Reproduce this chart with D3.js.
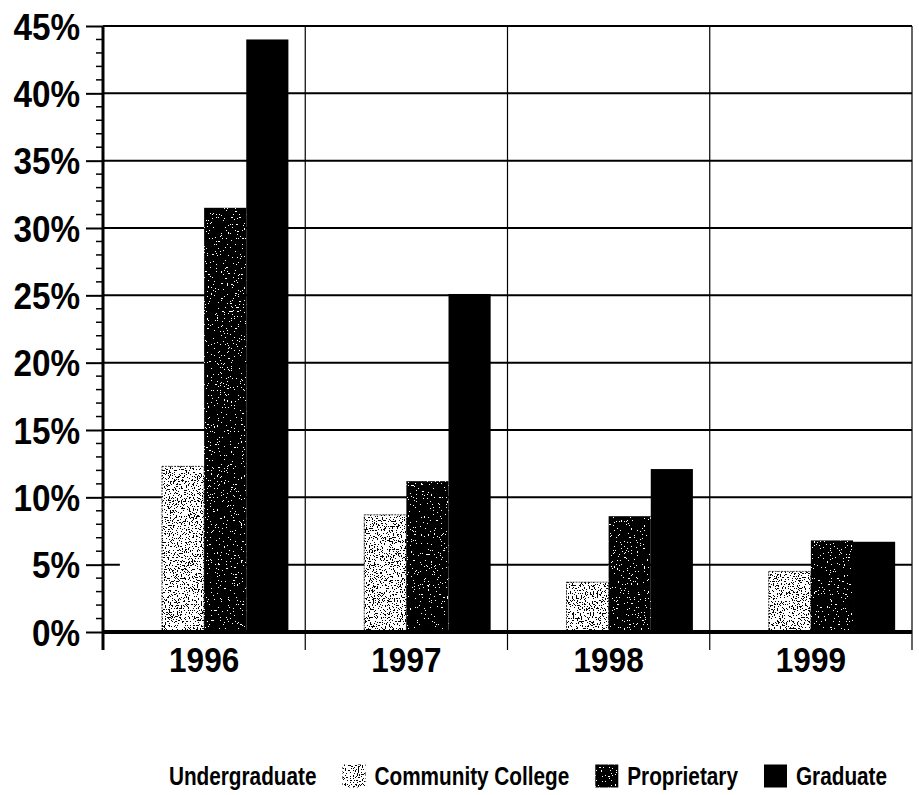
<!DOCTYPE html>
<html>
<head>
<meta charset="utf-8">
<script src="https://cdn.jsdelivr.net/npm/d3@7"></script>
<style>
  html, body { margin: 0; padding: 0; background: #fff; }
  svg { display: block; }
  text { font-family: "Liberation Sans", Arial, sans-serif; font-weight: bold; fill: #000; }
</style>
</head>
<body>
<svg id="chart" width="919" height="795"></svg>
<script>
// Enrollment share by year and sector (percent)
const years = ["1996", "1997", "1998", "1999"];
const series = ["Undergraduate", "Community College", "Proprietary", "Graduate"];
const undergraduate = [6.0, 3.0, 2.0, 3.3];
const communityCollege = [12.3, 8.7, 3.7, 4.5];
const proprietary = [31.5, 11.2, 8.6, 6.8];
const graduate = [44.0, 25.1, 12.1, 6.7];
const yTicks = [0, 5, 10, 15, 20, 25, 30, 35, 40, 45];

const valuesBySeries = [undergraduate, communityCollege, proprietary, graduate];

const svg = d3.select("#chart");
const plot = { left: 103, right: 912, top: 26, bottom: 632 };
const FONT = "\"Liberation Sans\", Arial, sans-serif";
const SQUEEZE = 0.9;          // horizontal compression for the condensed axis lettering
const LEGEND_SQUEEZE = 0.83;  // legend lettering is a little narrower still

const x = d3.scaleBand().domain(years).range([plot.left, plot.right]).paddingInner(0).paddingOuter(0);
const xs = d3.scaleBand().domain(series).range([0, x.bandwidth()]).paddingInner(0).paddingOuter(0.4);
const y = d3.scaleLinear().domain([0, 45]).range([plot.bottom, plot.top]);

// Stipple textures made from turbulence noise thresholded into dots
const defs = svg.append("defs");
function speckle(id, freq, seed, on, steps) {
  const table = d3.range(steps).map(i => (i >= steps - on ? 1 : 0)).join(" ");
  const f = defs.append("filter").attr("id", id)
    .attr("x", 0).attr("y", 0).attr("width", 1).attr("height", 1)
    .attr("color-interpolation-filters", "sRGB");
  f.append("feTurbulence").attr("type", "fractalNoise")
    .attr("baseFrequency", freq).attr("numOctaves", 2).attr("seed", seed).attr("result", "noise");
  f.append("feColorMatrix").attr("in", "noise").attr("type", "matrix")
    .attr("values", "0 0 0 0 0  0 0 0 0 0  0 0 0 0 0  1 0 0 0 0").attr("result", "a");
  f.append("feComponentTransfer").attr("in", "a").attr("result", "dots")
    .append("feFuncA").attr("type", "discrete").attr("tableValues", table);
  f.append("feComposite").attr("in", "SourceGraphic").attr("in2", "dots").attr("operator", "in");
}
speckle("speck-ug", 0.6, 11, 1, 24);
speckle("speck-cc", 0.75, 3, 8, 20);
speckle("speck-pr", 0.7, 5, 6, 20);

const styles = {
  "Undergraduate":     { base: "#fff", stroke: "none", overlay: "#000", filter: "speck-ug" },
  "Community College": { base: "#fff", stroke: "#444", overlay: "#000", filter: "speck-cc" },
  "Proprietary":       { base: "#000", stroke: "none", overlay: "#fff", filter: "speck-pr" },
  "Graduate":          { base: "#000", stroke: "none", overlay: null, filter: null }
};

// Horizontal gridlines
svg.append("g").selectAll("line").data(yTicks.filter(d => d > 0)).join("line")
  .attr("x1", plot.left).attr("x2", plot.right)
  .attr("y1", d => y(d)).attr("y2", d => y(d))
  .attr("stroke", "#000").attr("stroke-width", 2);

// Vertical category separators
const seps = years.slice(1).map(d => x(d)).concat([plot.right]);
svg.append("g").selectAll("line").data(seps).join("line")
  .attr("x1", d => d).attr("x2", d => d)
  .attr("y1", plot.top).attr("y2", plot.bottom + 18)
  .attr("stroke", "#000").attr("stroke-width", 1.2);

// Bars
const barData = [];
years.forEach((yr, i) => series.forEach((s, j) => barData.push({ year: yr, series: s, value: valuesBySeries[j][i] })));

const bars = svg.append("g");
bars.selectAll("rect.base").data(barData).join("rect")
  .attr("class", "base")
  .attr("x", d => x(d.year) + xs(d.series))
  .attr("width", xs.bandwidth())
  .attr("y", d => y(d.value))
  .attr("height", d => y(0) - y(d.value))
  .attr("fill", d => styles[d.series].base)
  .attr("stroke", d => styles[d.series].stroke)
  .attr("stroke-width", 1)
  .attr("stroke-dasharray", "2 1");

bars.selectAll("rect.tex").data(barData.filter(d => styles[d.series].overlay)).join("rect")
  .attr("class", "tex")
  .attr("x", d => x(d.year) + xs(d.series))
  .attr("width", xs.bandwidth())
  .attr("y", d => y(d.value))
  .attr("height", d => y(0) - y(d.value))
  .attr("fill", d => styles[d.series].overlay)
  .attr("filter", d => `url(#${styles[d.series].filter})`);

// Top border
svg.append("line").attr("x1", plot.left).attr("x2", plot.right)
  .attr("y1", plot.top).attr("y2", plot.top).attr("stroke", "#000").attr("stroke-width", 2);

// Y axis with major and minor ticks
const yAxis = svg.append("g").attr("transform", `translate(${plot.left},0)`);
yAxis.call(d3.axisLeft(y).tickValues(yTicks).tickSize(17).tickFormat(d => d + "%").tickPadding(6));
yAxis.select(".domain").remove();
yAxis.selectAll(".tick line").attr("stroke", "#000").attr("stroke-width", 2);
yAxis.selectAll(".tick text")
  .attr("font-size", 37).attr("dy", "0.36em")
  .attr("x", -23 / SQUEEZE)
  .attr("transform", `scale(${SQUEEZE},1)`)
  .style("font-family", FONT).style("font-weight", "bold");
const minor = d3.range(0, 45.01, 1).filter(d => d % 5 !== 0);
yAxis.append("g").selectAll("line").data(minor).join("line")
  .attr("x1", -7).attr("x2", 0).attr("y1", d => y(d)).attr("y2", d => y(d))
  .attr("stroke", "#000").attr("stroke-width", 1.5);
svg.append("line").attr("x1", plot.left).attr("x2", plot.left)
  .attr("y1", plot.top).attr("y2", plot.bottom + 18).attr("stroke", "#000").attr("stroke-width", 3);

// X axis baseline and labels
svg.append("line").attr("x1", plot.left).attr("x2", plot.right)
  .attr("y1", plot.bottom).attr("y2", plot.bottom).attr("stroke", "#000").attr("stroke-width", 4);
const xAxis = svg.append("g").attr("transform", `translate(0,${plot.bottom})`);
xAxis.call(d3.axisBottom(x).tickSize(0).tickPadding(15));
xAxis.select(".domain").remove();
xAxis.selectAll(".tick text")
  .attr("font-size", 35).attr("dy", "0.71em")
  .attr("transform", `scale(${SQUEEZE},1)`)
  .style("font-family", FONT).style("font-weight", "bold");

// Legend, centred under the plot
const legend = svg.append("g");
const sw = 23, gapText = 9, gapItem = 26, legendY = 776, legendCenter = 512;
const items = legend.selectAll("g").data(series).join("g");
items.append("text").attr("font-size", 25).attr("dy", "0.36em")
  .attr("transform", `scale(${LEGEND_SQUEEZE},1)`).text(d => d);
let cursor = 0;
items.each(function (d) {
  const g = d3.select(this);
  const t = g.select("text");
  const tw = t.node().getComputedTextLength() * LEGEND_SQUEEZE;
  g.attr("transform", `translate(${cursor},${legendY})`);
  g.insert("rect", "text").attr("x", 0).attr("y", -sw / 2).attr("width", sw).attr("height", sw)
    .attr("fill", styles[d].base);
  if (styles[d].overlay) {
    g.insert("rect", "text").attr("x", 0).attr("y", -sw / 2).attr("width", sw).attr("height", sw)
      .attr("fill", styles[d].overlay).attr("filter", `url(#${styles[d].filter})`);
  }
  t.attr("x", (sw + gapText) / LEGEND_SQUEEZE);
  cursor += sw + gapText + tw + gapItem;
});
const totalW = cursor - gapItem;
legend.attr("transform", `translate(${legendCenter - totalW / 2},0)`);
</script>
</body>
</html>
